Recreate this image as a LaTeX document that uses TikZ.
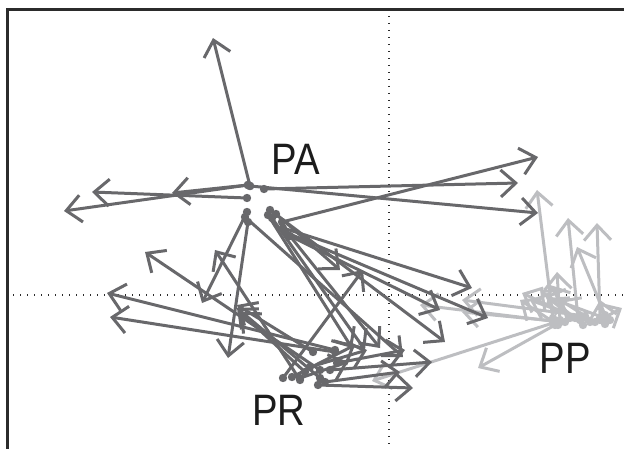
\documentclass[tikz,border=0pt]{standalone}
\usepackage{fontspec}
\setmainfont{Liberation Sans}
\usetikzlibrary{arrows.meta}
\definecolor{dk}{HTML}{68686B}
\definecolor{lt}{HTML}{BDBEC1}
\definecolor{fr}{HTML}{2B2B2B}
\definecolor{tx}{HTML}{1C1C1C}
\begin{document}
\begin{tikzpicture}[x=1pt,y=-1pt,
  vec/.style={line width=3pt,line cap=round,line join=round,-{Straight Barb[length=15pt,width=27pt]}},
  lab/.style={font=\fontsize{44}{44}\selectfont,text=tx,xscale=0.87,inner sep=0pt},
  axis/.style={fr,line width=1.4pt,dash pattern=on 1.4pt off 5.6pt}]
\useasboundingbox (0,0) rectangle (624,449);
% frame and axes
\draw[axis] (389,16) -- (389,449);
\draw[axis] (13,295) -- (624,295);
\draw[fr,line width=3pt] (7,449) -- (7,10) -- (624,10);
% PP (light)
\foreach \sx/\sy/\ex/\ey in {
  553/318/537/190, 578/318/568/218, 600/318/597/223, 605/315/577/247,
  560/320/557/272, 570/318/550/285, 560/322/420/305, 565/322/462/312,
  555/325/478/368, 553/323/372/381, 600/320/622/308, 580/320/522/293,
  590/322/530/300, 575/318/540/290, 585/316/462/300, 595/322/560/300,
  610/320/545/296, 558/325/520/300, 583/325/548/298, 605/324/600/300}
{\draw[vec,lt] (\sx,\sy) -- (\ex,\ey); \fill[lt] (\sx,\sy) circle (4.2);}
% PA (dark)
\foreach \sx/\sy/\ex/\ey in {
  250/186/213/38, 282/222/538/157, 264/189/518/183, 250/186/538/213,
  248/185/64/211, 247/198/92/192, 248/185/172/193, 247/212/202/303,
  248/222/228/358, 283/228/472/288, 285/232/488/318, 270/210/445/342,
  288/235/440/310, 245/217/403/357, 272/218/365/350, 276/214/340/270,
  268/215/352/348, 290/236/380/348}
{\draw[vec,dk] (\sx,\sy) -- (\ex,\ey); \fill[dk] (\sx,\sy) circle (4.2);}
% PR (dark)
\foreach \sx/\sy/\ex/\ey in {
  335/350/107/293, 335/352/110/317, 320/370/145/252, 300/380/215/250,
  320/378/237/308, 313/352/237/305, 330/370/432/362, 318/385/413/388,
  310/367/367/350, 337/363/405/350, 283/378/363/270, 292/377/355/345,
  300/378/348/362, 305/372/240/312, 325/382/400/372}
{\draw[vec,dk] (\sx,\sy) -- (\ex,\ey); \fill[dk] (\sx,\sy) circle (4.2);}
% labels
\node[lab] (pa) at (295.5,159.5) {PA};
\node[lab] (pr) at (279,410) {PR};
\node[lab] (pp) at (565.5,358) {PP};
\end{tikzpicture}
\end{document}
